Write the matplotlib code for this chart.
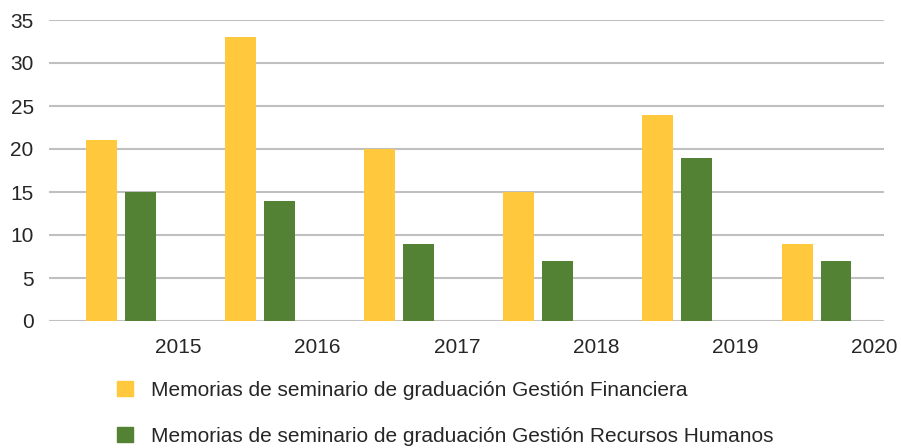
import numpy as np
import matplotlib.pyplot as plt
from matplotlib.patches import Patch

plt.rcParams['font.family'] = ['Liberation Sans', 'DejaVu Sans']

# data
years = ['2015', '2016', '2017', '2018', '2019', '2020']
financiera = [21, 33, 20, 15, 24, 9]
rrhh = [15, 14, 9, 7, 19, 7]
labels = ['Memorias de seminario de graduación Gestión Financiera',
          'Memorias de seminario de graduación Gestión Recursos Humanos']

yellow = '#FFC83D'
green = '#548235'

fig = plt.figure(figsize=(9.01, 4.48), dpi=100)
ax = fig.add_axes([49/901, 1-321/448, (884-49)/901, (321-20)/448])

x = np.arange(len(years))
w = 0.222
ax.bar(x + 0.3755, financiera, width=w, color=yellow, zorder=3)
ax.bar(x + 0.655, rrhh, width=w, color=green, zorder=3)

ax.set_xlim(0, len(years))
ax.set_ylim(0, 35)
ax.set_yticks(range(0, 36, 5))
ax.set_xticks(x + 0.93)
ax.set_xticklabels(years)
ax.yaxis.grid(True, color='#c0c0c0', linewidth=1.5, zorder=0)
for s in ax.spines.values():
    s.set_visible(False)
ax.tick_params(axis='both', length=0, labelsize=15, colors='#262626')
ax.tick_params(axis='y', pad=11)
ax.tick_params(axis='x', pad=12)

handles = [Patch(color=yellow), Patch(color=green)]
leg = fig.legend(handles, labels, loc='upper left', bbox_to_anchor=(117/901, 1-381/448),
                 frameon=False, fontsize=15, handlelength=0.75, handleheight=0.75,
                 handletextpad=0.9, labelspacing=1.3, borderaxespad=0, borderpad=0)
for t in leg.get_texts():
    t.set_color('#262626')

fig.savefig('out.png', dpi=100)
